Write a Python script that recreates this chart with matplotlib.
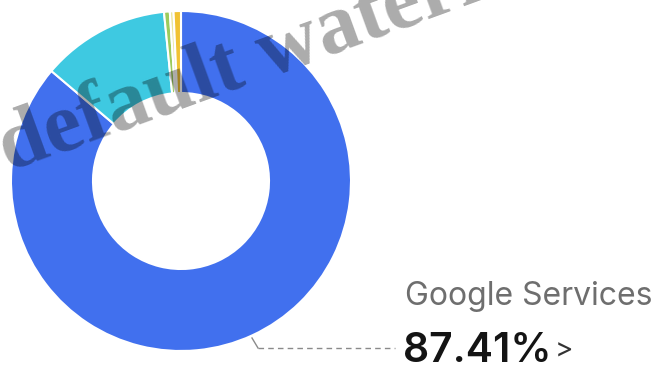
import matplotlib.pyplot as plt

# ---- data ----
segments = ['Google Services', 'Segment B', 'Segment C', 'Segment D', 'Segment E']
shares = [86.2, 12.2, 0.55, 0.35, 0.7]
colors = ['#4170ee', '#3ec9e1', '#9ccb5c', '#e9e6a0', '#f1c232']
top_label = 'Google Services'
top_value = '87.41%'

W, H = 663, 368

fig = plt.figure(figsize=(W / 100, H / 100), dpi=100)
ax = fig.add_axes([0, 0, 1, 1])

# donut (y measured from top, converted)
cx, cy, r = 181, H - 181, 170
ax.pie(shares, colors=colors, startangle=90, counterclock=False,
       center=(cx, cy), radius=r, frame=True,
       wedgeprops=dict(width=82, edgecolor='white', linewidth=1.5))
ax.set_xlim(0, W)
ax.set_ylim(0, H)
ax.set_aspect('equal')
ax.axis('off')

# leader line to the label
ax.plot([252, 258], [H - 338, H - 348], color='#8a8a8a', lw=1)
ax.plot([258, 395], [H - 348, H - 348], color='#8a8a8a', lw=1, ls=(0, (4, 3)))

ax.text(405, H - 305, top_label, fontsize=23, family='Inter',
        color='#6e6e6e', ha='left', va='baseline')
ax.text(403, H - 362, top_value, fontsize=29.5, family='Inter',
        fontweight='semibold', color='#141414', ha='left', va='baseline')
ax.text(555, H - 358, '>', fontsize=20, family='Inter',
        color='#333333', ha='left', va='baseline')

# watermark
ax.text(9, H - 172, 'default watermark', fontsize=61, family='Liberation Serif',
        fontweight='bold', color='black', alpha=0.33, rotation=20,
        rotation_mode='anchor', ha='left', va='baseline')

fig.savefig('out.png', dpi=100)
